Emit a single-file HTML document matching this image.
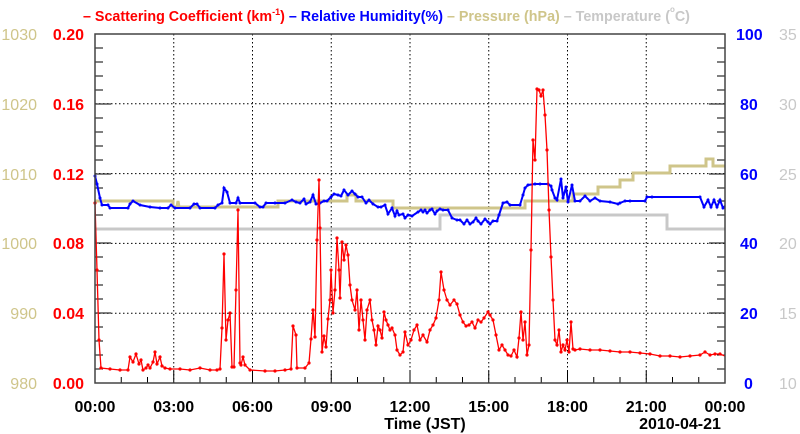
<!DOCTYPE html>
<html><head><meta charset="utf-8"><style>
body{margin:0;background:#fff}
svg{display:block}
text{font-family:"Liberation Sans",sans-serif}
</style></head><body>
<svg width="800" height="434" viewBox="0 0 800 434" xmlns="http://www.w3.org/2000/svg">
<defs>
<marker id="mr" markerWidth="4" markerHeight="4" refX="2" refY="2" markerUnits="userSpaceOnUse"><circle cx="2" cy="2" r="1.6" fill="#f00"/></marker>
<marker id="mb" markerWidth="4" markerHeight="4" refX="2" refY="2" markerUnits="userSpaceOnUse"><circle cx="2" cy="2" r="1.5" fill="#00f"/></marker>
</defs>
<g stroke="#000" stroke-width="1" stroke-dasharray="1.5,2.5">
<line x1="173.75" y1="34" x2="173.75" y2="383"/><line x1="252.5" y1="34" x2="252.5" y2="383"/><line x1="331.25" y1="34" x2="331.25" y2="383"/><line x1="410" y1="34" x2="410" y2="383"/><line x1="488.75" y1="34" x2="488.75" y2="383"/><line x1="567.5" y1="34" x2="567.5" y2="383"/><line x1="646.25" y1="34" x2="646.25" y2="383"/>
<line x1="95" y1="103.8" x2="725" y2="103.8"/><line x1="95" y1="173.6" x2="725" y2="173.6"/><line x1="95" y1="243.4" x2="725" y2="243.4"/><line x1="95" y1="313.2" x2="725" y2="313.2"/>
</g>
<g stroke="#000" stroke-width="1">
<path d="M95,48H103M95,62H103M95,76H103M95,90H103M95,104H111M95,118H103M95,132H103M95,146H103M95,160H103M95,174H111M95,188H103M95,201H103M95,215H103M95,229H103M95,243H111M95,257H103M95,271H103M95,285H103M95,299H103M95,313H111M95,327H103M95,341H103M95,355H103M95,369H103"/>
<path d="M725,48H717M725,62H717M725,76H717M725,90H717M725,104H709M725,118H717M725,132H717M725,146H717M725,160H717M725,174H709M725,188H717M725,201H717M725,215H717M725,229H717M725,243H709M725,257H717M725,271H717M725,285H717M725,299H717M725,313H709M725,327H717M725,341H717M725,355H717M725,369H717"/>
<path d="M121.25,383V377M147.5,383V377M173.75,383V371M200,383V377M226.25,383V377M252.5,383V371M278.75,383V377M305,383V377M331.25,383V371M357.5,383V377M383.75,383V377M410,383V371M436.25,383V377M462.5,383V377M488.75,383V371M515,383V377M541.25,383V377M567.5,383V371M593.75,383V377M620,383V377M646.25,383V371M672.5,383V377M698.75,383V377"/>
</g>
<polyline fill="none" stroke="#c8c8c8" stroke-width="3" points="95,229 440,229 440,215 667,215 667,229 725,229"/>
<polyline fill="none" stroke="#cfc58a" stroke-width="3" points="95,201 173,201 173,207 177,207 178,201 179,207 278,207 278,201 347,201 347,195 356,195 356,201 393,201 393,208 525,208 525,201 573,201 573,194 598,194 598,187 620,187 620,180 633,180 633,173 670,173 670,166 706,166 706,159 713,159 713,166 725,166"/>
<polyline fill="none" stroke="#00f" stroke-width="2" marker-start="url(#mb)" marker-mid="url(#mb)" points="95,176 97,184 100,198 102,205 108,205 110,208 128,208 130,204 133,201 140,205 150,207 160,208 168,208 171,205 175,208 190,208 194,204 197,204 200,208 215,208 218,205 222,203 224,188 227,192 230,203 236,203 238,198 240,203 255,203 260,207 263,207 266,203 275,203 285,203 292,200 296,202 300,203 304,199 306,204 310,202 313,195 316,204 320,203 324,201 327,201 331,197 334,194 338,195 341,196 344,190 348,195 352,191 355,194 358,197 362,197 366,203 369,200 373,204 378,207 381,207 385,205 388,214 392,208 395,216 397,211 399,215 403,214 405,218 408,215 412,216 418,212 421,210 423,212 425,210 427,213 430,210 432,209 435,214 437,211 440,209 443,210 448,210 452,218 457,220 460,220 464,224 467,220 470,224 473,222 476,218 478,221 481,224 485,219 488,222 490,224 493,221 497,221 499,215 503,203 507,202 510,205 520,205 523,195 525,188 528,185 535,184 540,184 548,184 551,186 552,190 555,198 557,200 561,179 563,198 566,187 568,202 572,185 575,201 580,201 585,196 590,201 595,198 600,201 610,202 618,204 620,203 625,201 630,201 645,201 647,197 652,197 700,197 704,207 708,200 711,207 714,200 717,207 720,200 723,208 725,206"/>
<polyline fill="none" stroke="#f00" stroke-width="1.3" marker-start="url(#mr)" marker-mid="url(#mr)" points="95,203 97,270 99,340 101,368 110,369 120,370 128,370 130,357 133,362 136,354 139,364 141,360 143,370 146,368 148,365 150,368 153,362 155,352 157,364 160,357 162,366 165,368 170,369 180,369 190,370 200,368 210,370 217,370 220,369 222,328 224,254 226,340 228,320 230,313 232,367 234,367 236,290 238,210 240,363 241,365 243,357 245,365 250,370 265,371 275,371 285,370 291,369 293,326 296,335 297,368 305,368 309,363 311,339 313,310 315,337 317,240 319,180 320,228 322,352 324,336 326,347 328,319 330,300 331,270 333,313 335,290 337,238 339,270 340,298 342,242 344,260 346,245 348,255 350,285 352,300 355,310 357,290 359,330 361,300 363,320 365,340 367,310 370,300 372,320 374,330 376,345 378,326 380,330 382,338 384,312 386,320 388,325 390,330 392,328 395,335 397,350 400,355 403,352 405,332 408,345 411,340 414,330 417,325 420,340 423,335 427,342 430,330 433,325 436,318 439,300 441,272 444,290 447,300 450,305 454,300 457,304 460,315 463,322 466,326 469,325 472,322 475,328 478,320 481,322 484,318 488,312 490,315 493,320 496,335 499,350 502,345 505,350 508,355 511,356 514,350 517,357 519,338 521,312 523,340 525,322 527,355 529,345 531,250 533,140 535,160 537,89 539,90 541,96 543,90 545,115 547,150 549,210 551,257 553,300 555,340 557,345 559,330 561,352 563,345 565,350 567,340 569,352 571,322 573,349 575,350 580,349 590,350 600,350 610,351 620,352 630,352 640,353 650,354 660,356 670,356 680,357 690,356 700,355 705,352 710,355 715,354 720,354 725,356"/>
<rect x="95" y="34" width="630" height="349" fill="none" stroke="#444" stroke-width="1.5"/>
<g font-size="16" text-anchor="end">
<g fill="#cfc58a"><text x="37" y="40">1030</text><text x="37" y="110">1020</text><text x="37" y="180">1010</text><text x="37" y="249">1000</text><text x="37" y="319">990</text><text x="37" y="389">980</text></g>
<g fill="#f00" font-weight="bold"><text x="84" y="40">0.20</text><text x="84" y="110">0.16</text><text x="84" y="180">0.12</text><text x="84" y="249">0.08</text><text x="84" y="319">0.04</text><text x="84" y="389">0.00</text></g>
</g>
<g font-size="16">
<g fill="#00f" font-weight="bold"><text x="736" y="40">100</text><text x="740" y="110">80</text><text x="740" y="180">60</text><text x="740" y="249">40</text><text x="740" y="319">20</text><text x="744" y="389">0</text></g>
<g fill="#c8c8c8"><text x="779" y="40">35</text><text x="779" y="110">30</text><text x="779" y="180">25</text><text x="779" y="249">20</text><text x="779" y="319">15</text><text x="779" y="389">10</text></g>
</g>
<g font-size="16" font-weight="bold" text-anchor="middle" fill="#000">
<text x="95" y="412">00:00</text><text x="173.75" y="412">03:00</text><text x="252.5" y="412">06:00</text><text x="331.25" y="412">09:00</text><text x="410" y="412">12:00</text><text x="488.75" y="412">15:00</text><text x="567.5" y="412">18:00</text><text x="646.25" y="412">21:00</text><text x="725" y="412">00:00</text>
<text x="425" y="429">Time (JST)</text><text x="680" y="429">2010-04-21</text>
</g>
<text x="83" y="21" font-size="14.3" font-weight="bold"><tspan fill="#f00">– Scattering Coefficient (km</tspan><tspan fill="#f00" font-size="9" dy="-6">-1</tspan><tspan fill="#f00" dy="6">)</tspan><tspan fill="#00f"> – Relative Humidity(%)</tspan><tspan fill="#cfc58a"> – Pressure (hPa)</tspan><tspan fill="#c8c8c8"> – Temperature (</tspan><tspan fill="#c8c8c8" font-size="8" dy="-9">o</tspan><tspan fill="#c8c8c8" dy="9">C)</tspan></text>
</svg>
</body></html>
